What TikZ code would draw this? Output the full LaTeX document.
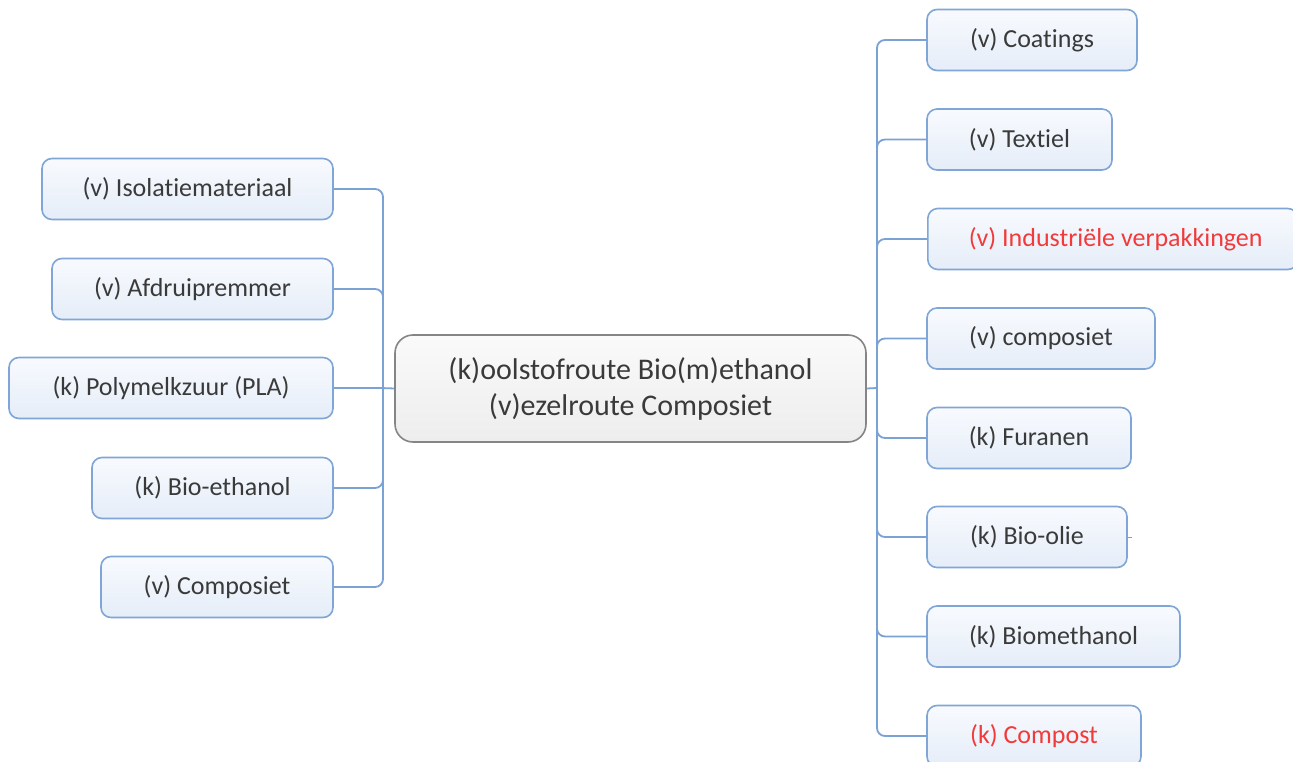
\documentclass[tikz,border=0pt]{standalone}
\usepackage{fontspec}
\setmainfont{Carlito}[Ligatures=NoCommon]
\definecolor{leafborder}{HTML}{7FA6D6}
\definecolor{leaftop}{HTML}{F8FAFE}
\definecolor{leafbot}{HTML}{E5EDF8}
\definecolor{conncol}{HTML}{7AA2D4}
\definecolor{txt}{HTML}{3A3A3A}
\definecolor{redtxt}{HTML}{F23A3A}
\definecolor{ctrborder}{HTML}{858585}
\definecolor{ctrtop}{HTML}{FAFAFA}
\definecolor{ctrbot}{HTML}{EDEDED}
\begin{document}
\begin{tikzpicture}[x=1pt,y=-1pt,
  leaf/.style={draw=leafborder, line width=1.6pt, rounded corners=10pt,
    top color=leaftop, bottom color=leafbot, minimum height=61pt,
    text=txt, font=\fontsize{26}{30}\selectfont, inner sep=0pt},
  redleaf/.style={leaf, text=redtxt},
  center/.style={draw=ctrborder, line width=1.6pt, rounded corners=18pt,
    top color=ctrtop, bottom color=ctrbot, minimum width=471pt, minimum height=107pt,
    text=txt, font=\fontsize{30}{36}\selectfont, align=center, inner sep=0pt},
  conn/.style={draw=conncol, line width=1.8pt, rounded corners=8pt}
]
\useasboundingbox (0,0) rectangle (1293,762);
\clip (0,0) rectangle (1293,762);
\fill[white] (0,0) rectangle (1293,762);

% center
\node[center] (c) at (630.5,388.5) {(k)oolstofroute Bio(m)ethanol\\(v)ezelroute Composiet};

% left leaves
\node[leaf, minimum width=291pt] (l1) at (187.5,189) {(v) Isolatiemateriaal};
\node[leaf, minimum width=281pt] (l2) at (192.5,289) {(v) Afdruipremmer};
\node[leaf, minimum width=324pt] (l3) at (171,388) {(k) Polymelkzuur (PLA)};
\node[leaf, minimum width=241pt] (l4) at (212.5,488) {(k) Bio-ethanol};
\node[leaf, minimum width=232pt] (l5) at (217,587) {(v) Composiet};

% right leaves
\node[leaf, minimum width=210pt] (r1) at (1032,40) {(v) Coatings};
\node[leaf, minimum width=185pt] (r2) at (1019.5,139.5) {(v) Textiel};
\node[redleaf, text width=370pt, align=flush left, anchor=west] (r3) at (927,239) {\hspace*{41pt}(v) Industriële verpakkingen};
\node[leaf, minimum width=228pt] (r4) at (1041,338.5) {(v) composiet};
\node[leaf, minimum width=204pt] (r5) at (1029,438) {(k) Furanen};
\node[leaf, minimum width=200pt] (r6) at (1027,537) {(k) Bio-olie};
\node[leaf, minimum width=253pt] (r7) at (1053.5,636.5) {(k) Biomethanol};
\node[redleaf, minimum width=214pt] (r8) at (1034,736) {(k) Compost};

% trunks
\coordinate (lt) at (383,388);
\coordinate (rt) at (877,388);

\foreach \n in {l1,l2,l4,l5} \draw[conn] (\n.east) -| (lt);
\draw[conn] (l3.east) -- (lt) -- (c.west);
\draw[conn] (c.east) -- (rt);
\foreach \n in {r1,r2,r3,r4,r5,r6,r7,r8} \draw[conn] (rt) |- (\n.west);
\draw[draw=conncol, line width=1pt] (r6.east) -- ++(4,0);
\end{tikzpicture}
\end{document}
